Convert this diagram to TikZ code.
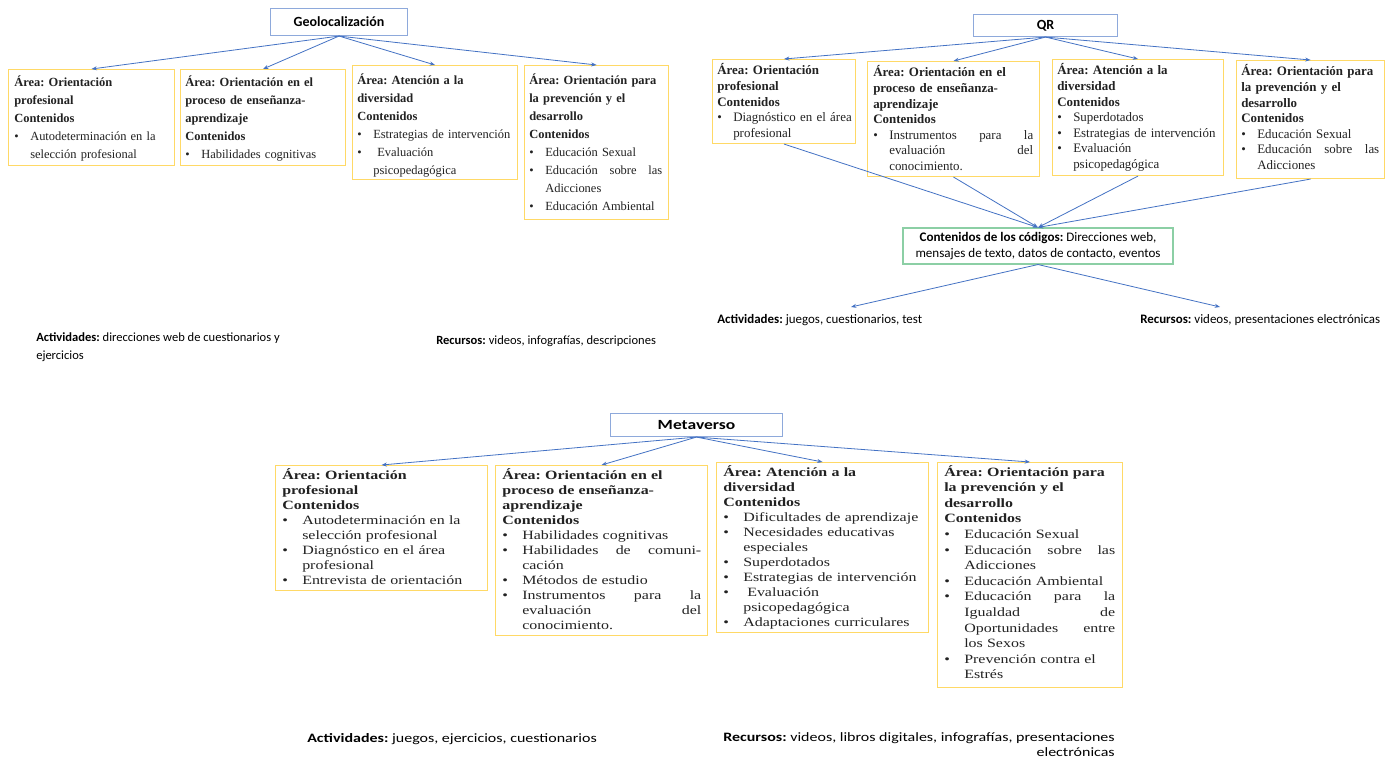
\documentclass[tikz,border=0pt]{standalone}
\usepackage{fontspec}
\setmainfont{Liberation Serif}
\newfontfamily\calfont{Carlito}
\newfontfamily\calwide[FakeStretch=1.25]{Carlito}
\newfontfamily\serwide[FakeStretch=1.26]{Liberation Serif}
\usetikzlibrary{arrows.meta}
\definecolor{boxyel}{HTML}{FFD966}
\definecolor{ttlblue}{HTML}{8EA9DB}
\definecolor{arrblue}{HTML}{4472C4}
\definecolor{grn}{HTML}{8CCFA5}
\definecolor{txt}{HTML}{222222}
\newlength\bind
\newcommand\bul{\makebox[\bind][l]{•}}
\newcommand\ind{\hspace*{\bind}}
\tikzset{
 abox/.style={draw=boxyel, line width=0.8pt, inner sep=0pt, anchor=north west},
 ttl/.style={draw=ttlblue, line width=0.8pt, inner sep=0pt, anchor=north west, font=\calfont\bfseries\fontsize{10.5}{12}\selectfont},
 ttlw/.style={ttl, font=\calwide\bfseries\fontsize{10.5}{12}\selectfont},
 geotxt/.style={inner sep=0pt, anchor=base west, align=left, text=txt, text width=200pt, font=\fontsize{9.35}{13.4}\selectfont\setlength\bind{12pt}},
 qrtxt/.style={inner sep=0pt, anchor=base west, align=left, text=txt, text width=200pt, font=\fontsize{9.7}{11.7}\selectfont\setlength\bind{12pt}},
 mtxt/.style={inner sep=0pt, anchor=base west, align=left, text=txt, text width=200pt, font=\serwide\fontsize{9.5}{11.3}\selectfont\setlength\bind{15pt}},
 conn/.style={draw=arrblue, line width=0.6pt, -{Stealth[length=4pt,width=3pt]}},
 lbl/.style={inner sep=0pt, anchor=base west, align=left, font=\calfont\fontsize{9.4}{13.5}\selectfont},
 lblw/.style={inner sep=0pt, anchor=base west, align=left, font=\calwide\fontsize{9.6}{11.25}\selectfont},
}
\begin{document}
\frenchspacing
\begin{tikzpicture}[x=0.75pt,y=-0.75pt]
\useasboundingbox (0,0) rectangle (1393,759);
\fill[white] (0,0) rectangle (1393,759);

% ---------------- Geolocalizacion ----------------
\node[ttl, minimum width=102.75pt, minimum height=20.25pt] (gt) at (270,8) {Geolocalización};
\node[abox, minimum width=124.5pt, minimum height=72pt] (g1) at (8,69) {};
\node[abox, minimum width=123.75pt, minimum height=72pt] (g2) at (180,69) {};
\node[abox, minimum width=123.75pt, minimum height=85.5pt] (g3) at (352,65) {};
\node[abox, minimum width=108pt, minimum height=115.5pt] (g4) at (524,65) {};

\node[geotxt] (g1t) at (14,87) {\textbf{Área: Orientación}\\ \textbf{profesional}\\ \textbf{Contenidos}\\ \bul Autodeterminación en la\\ \ind selección profesional};
\node[geotxt] (g2t) at (185,87) {\textbf{Área: Orientación en el}\\ \textbf{proceso de enseñanza-}\\ \textbf{aprendizaje}\\ \textbf{Contenidos}\\ \bul Habilidades cognitivas};
\node[geotxt] (g3t) at (357,85) {\textbf{Área: Atención a la}\\ \textbf{diversidad}\\ \textbf{Contenidos}\\ \bul Estrategias de intervención\\ \bul \hspace*{3pt}Evaluación\\ \ind psicopedagógica};
\node[geotxt, text width=99.75pt, font=\fontsize{9.35}{13.5}\selectfont\setlength\bind{12pt}] (g4t) at (529,85) {\textbf{Área: Orientación para}\\ \textbf{la prevención y el}\\ \textbf{desarrollo}\\ \textbf{Contenidos}\\ \bul Educación Sexual\\ \bul Educación\hfill sobre\hfill las\\ \ind Adicciones\\ \bul Educación Ambiental};

\foreach \b in {g1,g2,g3,g4} \draw[conn] (gt.south) -- (\b.north);

\node[lbl] (ga) at (36,360) {\textbf{Actividades:} direcciones web de cuestionarios y\\ejercicios};
\node[lbl] (gr) at (436,345) {\textbf{Recursos:} videos, infografías, descripciones};

% ---------------- QR ----------------
\node[ttl, minimum width=108pt, minimum height=16.5pt] (qt) at (973,14) {QR};
\node[abox, minimum width=107.25pt, minimum height=63pt] (q1) at (712,59) {};
\node[abox, minimum width=129pt, minimum height=86.25pt] (q2) at (867,61) {};
\node[abox, minimum width=128.25pt, minimum height=87pt] (q3) at (1052,59) {};
\node[abox, minimum width=111pt, minimum height=88.5pt] (q4) at (1236,60) {};

\node[qrtxt] (q1t) at (717,75) {\textbf{Área: Orientación}\\ \textbf{profesional}\\ \textbf{Contenidos}\\ \bul Diagnóstico en el área\\ \ind profesional};
\node[qrtxt, text width=120pt] (q2t) at (873,77) {\textbf{Área: Orientación en el}\\ \textbf{proceso de enseñanza-}\\ \textbf{aprendizaje}\\ \textbf{Contenidos}\\ \bul Instrumentos\hfill para\hfill la\\ \ind evaluación\hfill del\\ \ind conocimiento.};
\node[qrtxt] (q3t) at (1057,75) {\textbf{Área: Atención a la}\\ \textbf{diversidad}\\ \textbf{Contenidos}\\ \bul Superdotados\\ \bul Estrategias de intervención\\ \bul Evaluación\\ \ind psicopedagógica};
\node[qrtxt, text width=103.5pt] (q4t) at (1241,76) {\textbf{Área: Orientación para}\\ \textbf{la prevención y el}\\ \textbf{desarrollo}\\ \textbf{Contenidos}\\ \bul Educación Sexual\\ \bul Educación\hfill sobre\hfill las\\ \ind Adicciones};

\foreach \b in {q1,q2,q3,q4} \draw[conn] (qt.south) -- (\b.north);

\node[draw=grn, line width=0.8pt, inner sep=0pt, minimum width=202.5pt, minimum height=27pt, align=center, font=\calfont\fontsize{9.8}{11.4}\selectfont] (qc) at (1038,246) {\textbf{Contenidos de los códigos:} Direcciones web,\\ mensajes de texto, datos de contacto, eventos};
\foreach \b in {q1,q2,q3,q4} \draw[conn] (\b.south) -- (qc.north);

\node[lbl, font=\calfont\fontsize{9.7}{12}\selectfont] (qa) at (717,324) {\textbf{Actividades:} juegos, cuestionarios, test};
\node[lbl, font=\calfont\fontsize{9.7}{12}\selectfont] (qr) at (1140,324) {\textbf{Recursos:} videos, presentaciones electrónicas};
\coordinate (qaend) at (851,307);
\coordinate (qrend) at (1220,307);
\draw[conn] (qc.south) -- (qaend);
\draw[conn] (qc.south) -- (qrend);

% ---------------- Metaverso ----------------
\node[ttlw, minimum width=129pt, minimum height=17.25pt] (mt) at (610,413) {Metaverso};
\node[abox, minimum width=159pt, minimum height=93.75pt] (m1) at (275,465) {};
\node[abox, minimum width=159pt, minimum height=127.5pt] (m2) at (495,465) {};
\node[abox, minimum width=159pt, minimum height=127.5pt] (m3) at (716,462) {};
\node[abox, minimum width=138.75pt, minimum height=168.75pt] (m4) at (937,462) {};

\node[mtxt] (m1t) at (282,479) {\textbf{Área: Orientación}\\ \textbf{profesional}\\ \textbf{Contenidos}\\ \bul Autodeterminación en la\\ \ind selección profesional\\ \bul Diagnóstico en el área\\ \ind profesional\\ \bul Entrevista de orientación};
\node[mtxt, text width=149.25pt] (m2t) at (502,479) {\textbf{Área: Orientación en el}\\ \textbf{proceso de enseñanza-}\\ \textbf{aprendizaje}\\ \textbf{Contenidos}\\ \bul Habilidades cognitivas\\ \bul Habilidades\hfill de\hfill comuni-\\ \ind cación\\ \bul Métodos de estudio\\ \bul Instrumentos\hfill para\hfill la\\ \ind evaluación\hfill del\\ \ind conocimiento.};
\node[mtxt] (m3t) at (723,476) {\textbf{Área: Atención a la}\\ \textbf{diversidad}\\ \textbf{Contenidos}\\ \bul Dificultades de aprendizaje\\ \bul Necesidades educativas\\ \ind especiales\\ \bul Superdotados\\ \bul Estrategias de intervención\\ \bul \hspace*{3pt}Evaluación\\ \ind psicopedagógica\\ \bul Adaptaciones curriculares};
\node[mtxt, text width=128.25pt, font=\serwide\fontsize{9.5}{11.7}\selectfont\setlength\bind{15pt}] (m4t) at (944,476) {\textbf{Área: Orientación para}\\ \textbf{la prevención y el}\\ \textbf{desarrollo}\\ \textbf{Contenidos}\\ \bul Educación Sexual\\ \bul Educación\hfill sobre\hfill las\\ \ind Adicciones\\ \bul Educación Ambiental\\ \bul Educación\hfill para\hfill la\\ \ind Igualdad\hfill de\\ \ind Oportunidades\hfill entre\\ \ind los Sexos\\ \bul Prevención contra el\\ \ind Estrés};

\foreach \b in {m1,m2,m3,m4} \draw[conn] (mt.south) -- (\b.north);

\node[lblw] (ma) at (307,742) {\textbf{Actividades:} juegos, ejercicios, cuestionarios};
\node[lblw, anchor=base east, align=right] (mr) at (1115,756) {\textbf{Recursos:} videos, libros digitales, infografías, presentaciones\\ electrónicas};
\end{tikzpicture}
\end{document}
